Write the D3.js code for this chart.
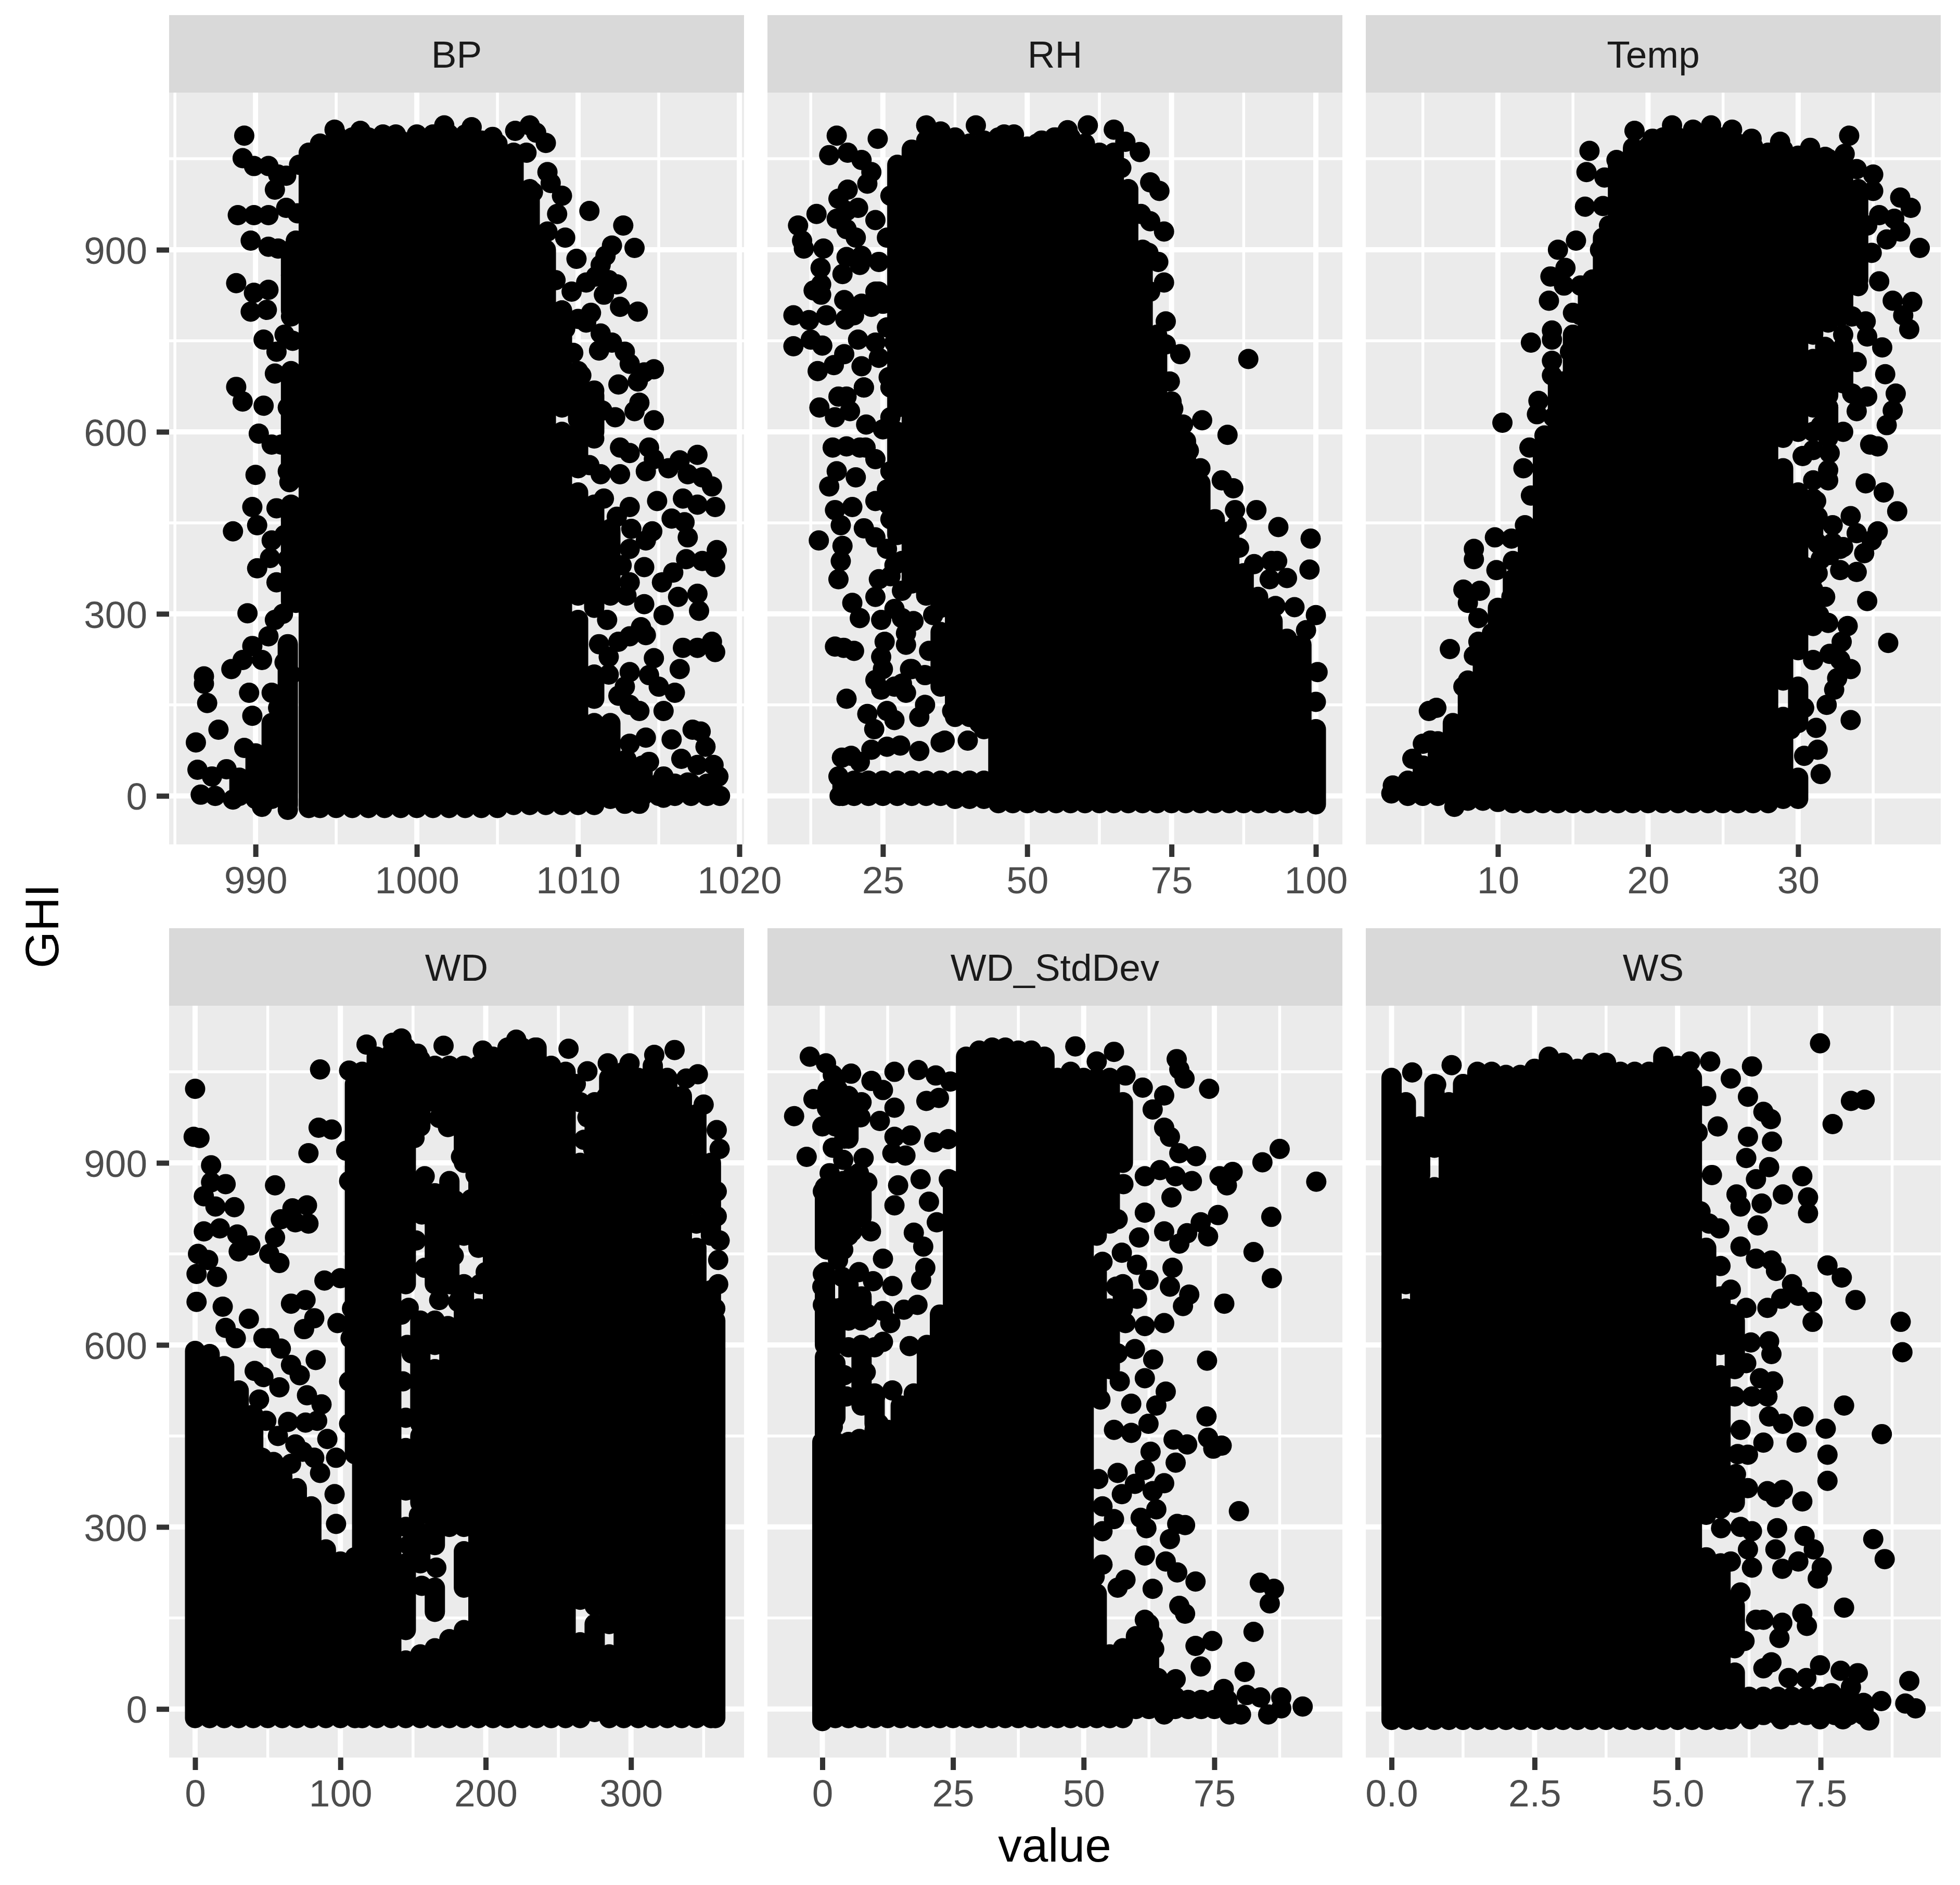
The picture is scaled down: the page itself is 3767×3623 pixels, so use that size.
<!DOCTYPE html>
<html>
<head>
<meta charset="utf-8">
<script src="https://cdn.jsdelivr.net/npm/d3@7"></script>
<style>
  html, body { margin: 0; padding: 0; background: #fff; }
  svg { display: block; }
  text { font-family: "Liberation Sans", Arial, sans-serif; }
</style>
</head>
<body>
<svg id="chart" width="3767" height="3623"></svg>
<script>
// facet names, tick labels
var facetNames = ['BP', 'RH', 'Temp', 'WD', 'WD_StdDev', 'WS'];
var yTicks = [0, 300, 600, 900];
var yMinor = [150, 450, 750, 1050];
var xTicks = [[990, 1000, 1010, 1020], [25, 50, 75, 100], [10, 20, 30], [0, 100, 200, 300], [0, 25, 50, 75], [0, 2.5, 5, 7.5]];
var xMinor = [[985, 995, 1005, 1015], [12.5, 37.5, 62.5, 87.5], [5, 15, 25, 35], [50, 150, 250, 350], [12.5, 37.5, 62.5, 87.5], [1.25, 3.75, 6.25, 8.75]];
var xDomains = [[984.64, 1020.29], [5, 104.6], [1.2, 39.5], [-17.9, 377.8], [-10.5, 99.5], [-0.45, 9.6]];
var yDomain = [-80, 1159];

// points that can be told apart: [value, GHI]
var bpPoints = [[989.3,1088],[989.2,1051],[989.9,1038],[990.8,1038],[991.4,1024],[991.9,1022],[991.2,999],[988.9,957],[989.9,957],[990.8,957],[991.9,969],[989.7,915],[990.8,905],[991.4,902],[992.5,915],[992.2,858],[988.8,845],[989.9,829],[990.8,834],[989.7,798],[990.7,801],[990.5,752],[991.3,732],[991.2,696],[992.2,698],[988.8,674],[989.2,650],[990.5,643],[990.2,597],[991,579],[991.6,579],[990,529],[992,535],[992.1,517],[989.8,476],[991.3,474],[990.1,446],[988.6,436],[991,421],[990.9,392],[990.1,375],[991.3,352],[992.5,318],[989.5,301],[990.8,263],[989.8,247],[989.2,224],[988.5,209],[990.4,224],[986.8,197],[986.8,185],[987,153],[987.7,109],[986.3,88],[989.6,170],[989.8,132],[991,170],[991.4,145],[989.3,79],[991.4,95],[986.4,43],[988.2,44],[987.3,32],[986.6,2],[987.5,0],[988.6,-6],[990.4,-18],[992,-23],[992.2,790],[991.8,760],[992,640],[992.2,600],[991.8,430],[992,390],
[994.9,1098],[996.5,1096],[997.9,1090],[998.7,1090],[1000,1090],[1001.7,1105],[1003.4,1102],[1004.7,1086],[1006.1,1096],[1007,1105],[1007.4,1093],[1008,1076],[1006.8,1060],[1008.1,1028],[1008.3,1010],[1007.2,995],[1009,989],[1008.7,959],[1010.7,964],[1012.8,940],[1013.5,903],[1012.1,907],[1011.7,890],[1011.4,875],[1012.4,843],[1011.9,850],[1009.9,885],[1009.2,920],[1008.1,930],[1007.8,890],[1008.1,850],[1009.6,831],[1010.5,846],[1011.1,856],[1011.6,826],[1010.8,796],[1012.6,806],[1013.7,798],[1010,786],[1009,800],[1007.5,795],[1010.5,780],[1011.4,762],[1011.3,734],[1012.1,747],[1012.9,732],[1013.2,712],[1014.7,703],[1014.1,698],[1012.5,678],[1013.7,683],[1013.8,648],[1013.5,634],[1014.7,619],[1010.2,693],[1011,668],[1011.5,635],[1012.3,624],[1011,589],[1009.9,579],[1012.6,574],[1014.4,574],[1013.2,565],[1014.7,555],[1010.7,545],[1011.4,530],[1012.6,530],[1014.2,535],
[1017.4,562],[1016.3,553],[1015.6,540],[1016.8,530],[1017.7,525],[1018.3,510],[1016.5,490],[1017.4,480],[1018.5,476],[1014.9,486],[1015.8,457],[1016.6,451],[1016.8,426],[1013.2,476],[1014.6,436],[1014.2,421],[1013.2,407],[1018.6,405],[1016.7,390],[1017.7,387],[1018.5,377],[1015.9,368],[1015.2,352],[1014.1,377],[1013.2,352],[1016.2,328],[1017.4,333],[1017.5,305],[1015.3,298],[1014.1,316],[1013,330],[1013.9,278],[1013.2,263],[1014.2,265],[1012.5,254],[1011.9,229],[1016.5,244],[1016.3,209],[1017.4,244],[1018.3,254],[1018.5,237],[1014.7,227],[1013.2,204],[1014.4,199],[1015,180],[1016,170],[1015.3,140],[1012.9,180],[1013.2,150],[1013.8,140],[1017.1,109],[1017.6,106],[1015.8,93],[1014.2,96],[1013.2,86],[1017.9,81],[1016.4,61],[1018.4,51],[1017.4,51],[1014.4,56],[1018.7,32],[1018.8,0],[1015.3,-3],[1013.8,-13],[1012.9,-13],[1011.7,32],[1012.6,32],[1013.5,42],[1015.3,32],[1016.8,22],
[992.7,1040],[992.6,960],[992.8,880],[992.5,820],[992.3,750],[992.6,660],[992.4,610],[992.7,560],[992.3,470],[992.5,420],[992.6,370],[992.8,330],[991.7,300],[991.2,290],[991.8,220],[992.2,200],[1009.2,770],[1008.6,850],[1007.7,920],[1009.7,730],[1010.3,640],[1011.6,490],[1012.4,460],[1013.3,440],[1012.7,380],[1011.8,290],[1011.3,250],[1011.9,200],[1012.5,165],[1012,90]];
var rhPoints = [[17,1088],[15.7,1056],[18.9,1060],[24.1,1083],[32.5,1105],[41.1,1105],[35,1095],[46,1090],[47.7,1090],[51.7,1075],[54.7,1085],[57,1097],[60.5,1105],[65,1098],[67,1078],[69.5,1061],[66.3,1035],[71.3,1011],[72.9,997],[69.7,959],[73.7,930],[71.3,947],[72.7,880],[71,895],[73.7,846],[71.3,831],[74,782],[74,744],[76.5,728],[88.3,720],[74.7,683],[75.3,638],[80.3,619],[84.7,595],[77,612],[78,569],[80,540],[83.7,520],[85.7,507],[86,471],[86.3,446],[89.7,471],[93.5,443],[99.1,424],[86.7,409],[89.3,382],[92.3,387],[93.3,387],[98.9,373],[95,359],[92,357],[93,313],[96.3,311],[100,298],[98.3,273],[100.3,204],[100,155],
[13.5,959],[10.3,940],[11,915],[11.3,902],[14.7,902],[14.2,870],[14.3,843],[13,833],[14.3,826],[9.5,792],[12.2,784],[15.2,792],[12.5,752],[9.5,741],[14.5,742],[13.7,700],[16.5,710],[18.3,728],[20.7,752],[23.7,747],[21.3,708],[18.9,999],[17.3,984],[17,951],[18.7,964],[18.7,934],[20.3,920],[18.7,888],[18,860],[21,875],[18.3,817],[21.3,811],[18.5,785],[20,792],[24.3,831],[14,640],[17.3,658],[18.7,658],[16.7,624],[19.3,634],[22.1,612],[21.7,673],[16.3,574],[18.7,576],[22,574],[17,535],[15.7,510],[16.7,471],[17.7,446],[20.3,525],[19.7,476],[21.7,441],[13.9,421],[18,412],[17.7,387],[17.3,357],[24.3,357],[19.7,318],[21,293],[23.7,328],[24.7,290],[16.7,246],[18.2,244],[20,239],[25.3,254],[24.7,229],[25,209],[23.7,191],[24.7,175],[18.7,160],[22.3,135],[23.5,110],[27,125],[25.7,140],[31.3,130],[29,268],[30,209],[28.3,293],[28.3,185],[27,180],[17.9,63],[19.5,66],[23,76],[25.7,81],[28,83],[31.3,74],[35,88],[21,56],[17.3,32],[17.5,0],[21,22],[28,590],[26,690],[26,480],[27,380],[28,440],
[21.3,1048],[23,1028],[22.3,1009],[26.3,989],[20.7,969],[23.7,949],[25.7,920],[21.3,890],[24.3,880],[23.7,831],[25,811],[23,806],[25.7,772],[27,747],[24.3,722],[26.3,673],[21.7,673],[26.3,624],[25,604],[27.7,584],[21,574],[23.7,555],[26.3,535],[25.7,505],[23.7,486],[26.3,456],[23.7,426],[25.7,407],[28.3,387],[26.3,362],[28.3,338],[31,367],[27,308],[30.3,288],[33.7,298],[29,249],[33,239],[29.7,209],[32.3,199],[29,170],[32.3,150],[37,140],[35.7,91],[39.7,91],[41.7,120]];
var tempPoints = [[16.1,1063],[15.9,1028],[15.8,971],[17,972],[14,900],[15.2,915],[13.5,856],[14.4,841],[13.4,816],[14.5,870],[15,796],[15.5,841],[13.6,767],[12.2,747],[13.6,752],[13.6,717],[13.6,693],[12.7,651],[12.6,629],[10.3,615],[13.1,594],[12.1,574],[11.7,540],[12.2,495],[11.8,446],[9.8,426],[10.9,424],[8.4,407],[8.4,390],[11,387],[9.9,372],[7.7,340],[8.8,338],[8,318],[8.7,293],[6.8,242],[8.7,254],[8.4,231],[8,190],[7.7,180],[5.4,140],[5.9,145],[5.5,91],[5,86],[4.3,61],[3,17],[2.9,4],[7.1,-18],
[19.1,1096],[20.3,1083],[21.6,1105],[23,1098],[24.2,1105],[25.6,1098],[26.9,1083],[28.8,1078],[30.8,1068],[31.8,1053],[33.4,1088],[33.1,1058],[33.9,1033],[35,1024],[35,997],[34.1,994],[36.8,986],[37.5,969],[35.4,957],[36.4,951],[34.6,940],[36.8,930],[35.9,917],[38.1,903],[34.9,895],[35.4,848],[36.3,816],[37.6,814],[37,792],[37.4,769],[34.5,782],[34.6,757],[35.6,739],[33.9,715],[35.8,695],[36.5,663],[36.3,635],[35.9,611],[34.6,658],[33.6,663],[33.9,634],[32.1,599],[34.8,579],[35.3,576],[32.1,565],[32,537],[34.5,515],[35.7,500],[36.6,469],[33.5,461],[31.2,486],[32.3,446],[33.9,433],[35.3,436],[34.9,421],[34.4,400],[33.9,369],[32.8,372],[32.3,417],[31.8,328],[34.6,321],[31.4,298],[33.3,280],[32.9,254],[36,252],[32.1,234],[31,224],[32.8,224],[33.5,209],[32.6,194],[32.4,175],[31.9,150],[33.5,125],[31.2,112],[31.3,76],[30.4,66],[31.5,36],[30.4,145],[29.5,110],[30,268],[33,700],[32,690],[31.5,610],[33,600],[31,570],[32,640],[33,760],[32,520],[31,520],[31.5,390],[31,360],[33,410],[32,285],
[15.5,792],[14.8,732],[14.3,683],[13.7,624],[13,535],[12.7,495],[12.5,426],[11.4,377],[10.9,328],[9.6,268],[9.4,229],[8.1,160],[7.3,110],[6.3,71],[17.4,940],[18.1,979],[17.1,1019],[17.9,1048],[16.8,900],[16.3,851],[30.9,328],[31.3,367],[32.1,397],[30.5,446],[31.3,416],[32.8,407],[30.5,377],[32.8,790],[31.8,740],[33.6,790],[34,840],[31,600],[31.3,460],[30.3,560]];
var wdPoints = [[0,1022],[-1,943],[3,941],[11,896],[11,868],[21,865],[6,845],[14,828],[27,827],[6,787],[17,792],[29,782],[30,754],[38,764],[2,750],[9,740],[1,717],[15,712],[1,671],[19,663],[21,628],[28,611],[37,643],[47,611],[51,611],[55,863],[55,777],[51,750],[58,735],[59,807],[67,825],[69,802],[77,830],[78,800],[78,916],[85,958],[94,955],[86,1054],[89,706],[100,710],[66,668],[76,674],[82,644],[75,626],[98,636],[59,594],[66,567],[72,550],[83,575],[41,557],[47,547],[58,530],[77,517],[87,502],[44,510],[49,475],[64,473],[76,472],[84,475],[57,450],[69,436],[91,445],[46,414],[54,407],[66,404],[74,424],[82,414],[97,414],[106,470],[86,389],[96,354],[97,305],[107,611],[111,574],[106,540],
[106,1052],[118,1095],[136,1098],[142,1105],[153,1080],[171,1093],[198,1085],[221,1103],[234,1090],[257,1088],[270,1051],[284,1064],[299,1064],[316,1078],[330,1086],[338,1039],[346,1046],[350,996],[359,954],[361,923],[359,853],[359,812],[361,772],[151,941],[158,878],[156,815],[146,850],[152,772],[158,727],[166,717],[168,674],[181,694],[181,671],[166,601],[174,631],[176,550],[181,525],[159,555],[147,661],[156,636],[149,586],[168,515],[159,409],[154,319],[159,273],[166,233],[156,203],[179,838],[168,787],[178,747],[168,974],[174,959],[184,974],[183,910],[163,1020],[176,1000],[145,1010],[106,870],[104,920],[107,710],[108,660],
[267.6,938],[274,923],[283,1009],[265,1000],[262,1030],[270,975],[258,1000],[190,840],[193,880],[200,720],[196,700],[360,700],[360,740],[358,660],[145,480],[143,540],[146,600],[142,650],[145,300],[147,270],[345,800]];
var sdPoints = [[-5.4,977],[0.7,1064],[5.5,1047],[-2.4,1075],[-3,910],[-1.7,1005],[2,1045],[9.4,1035],[13.8,1050],[18.3,1053],[21.7,1044],[24.5,1034],[7.5,1000],[11.6,1020],[13.8,991],[19.9,1002],[22.3,1007],[13.8,943],[16.9,945],[15.9,912],[13.4,916],[21.4,934],[24.1,939],[7.3,975],[11,969],[0.9,990],[2.7,960],[4.2,940],[7.9,908],[2,1000],[1,1020],[3,1020],[4,985],[5,1010],[0,960],[2,925],[4,905],
[18.8,873],[24.2,873],[14.5,863],[13.8,830],[20.4,836],[21.9,802],[17.5,785],[19.3,762],[11.6,742],[19.7,727],[18.9,707],[9.7,705],[13.4,697],[15.6,658],[18.2,666],[8.6,651],[11.6,656],[13,636],[0.9,614],[0.9,590],[7.1,596],[10,596],[16.7,598],[4.2,550],[8.3,555],[1.3,527],[4.6,515],[7.5,500],[10.1,515],[2.4,495],[13.4,525],[10.8,470],[7.1,445],[2,465],[0,435],[0.1,853],[0.9,823],[0.9,782],[0.9,757],[0.1,717],[0,696],[0.1,666],[3.8,712],[3.5,661],[5.7,878],[8.6,868],[7.1,838],[9.3,787],[2.7,838],[5.7,787],[4,757],[7,720],[8.6,645],[5,596],[11.6,605],[1.4,883],[7,883],[3,800],[3,740],[6,820],[4,870],
[55.8,1083],[48.4,1092],[52.5,1067],[58,1044],[61.3,1024],[67.8,1071],[68.3,1054],[69.3,1039],[74,1022],[65.4,1011],[63.2,988],[65.4,958],[66.5,943],[68.3,916],[71.5,911],[87.5,923],[84.2,901],[78.5,885],[76,878],[77.4,863],[94.5,869],[70.7,870],[67.6,878],[64.6,888],[61.7,878],[57.6,865],[66.8,843],[75.7,814],[85.9,811],[72.4,802],[69.8,784],[73.8,779],[68.3,767],[65.4,787],[60.6,777],[61.7,818],[56.5,807],[82.5,753],[67,727],[60.2,732],[57.3,752],[62.4,707],[66.5,696],[86,710],[56.2,696],[53.6,737],[70.2,683],[69,664],[76.9,668],[60.2,676],[65.4,636],[61.7,631],[58,636],[59.8,593],[63.3,576],[73.6,574],[56.5,586],[61.7,545],[56.9,540],[65.7,523],[59.1,503],[63.9,500],[73.5,482],[53.2,510],[62.4,470],[73.8,447],[76.4,434],[74.8,429],[67.2,444],[69.8,436],[59.1,455],[55.8,460],[62.8,424],[67.6,406],[56.5,389],[52.8,379],[61.7,394],[65.4,372],[59.8,371],[57.3,354],[63.2,359],[79.7,326],[60.9,315],[63.9,329],[53.6,334],[55.8,313],[53.6,293],[69.4,303],[67.9,305],[62,298],[66.5,280],[49.9,273],[61.7,253],[65.7,243],[53.6,238],[67.9,225],[52.1,218],[58,213],[56.5,200],[63.2,198],[71.4,210],[83.7,208],[86.4,198],[85.6,174],[68.3,170],[69.4,157],[82.5,127],[61.7,147],[63.2,122],[74.6,112],[71.4,104],[63.5,99],[72.4,70],[59.5,69],[80.8,61],[64.2,51],[67.6,49],[76.8,33],[81.2,23],[83.8,19],[87.8,19],[91.9,4],[87.8,1],[85.3,-9],[80.1,-9],[77.9,-9],[65.4,-9],[56.5,-9]];
var wsPoints = [[7.49,1097],[8.03,1002],[8.27,1004],[7.71,964],[7.18,878],[6.84,848],[7.28,843],[7.28,817],[7.62,731],[7.87,711],[8.11,674],[7,700],[7.35,671],[7.36,638],[8.9,638],[8.93,588],[7.91,500],[7.2,482],[8.57,453],[7.59,462],[7.62,419],[7.62,376],[7.18,342],[8.42,280],[8.62,247],[7.22,285],[7.38,263],[7.52,233],[7.45,215],[7.11,243],[6.83,231],[7.91,167],[7.18,157],[7.26,137],[6.83,142],[6.78,117],[6.5,147],[6.64,77],[6.94,51],[7.49,72],[7.25,51],[7.85,63],[8.15,59],[8.03,36],[9.05,46],[8.56,13],[8.98,9],[9.16,1],[8.35,-19],[7.89,-17],[7.49,-17],[6.81,-17],[6.27,-17],[5.93,-17],[7.69,26],[8.13,6],
[6.3,1059],[5.93,1039],[5.57,1067],[5.22,1067],[6.23,1009],[6.5,984],[6.63,972],[6.65,935],[6.23,943],[6.2,908],[6.6,893],[6.37,873],[6.47,833],[6.03,848],[6.1,828],[6.4,797],[5.73,792],[6.1,762],[6.64,739],[6.72,722],[6.37,742],[5.93,691],[6.2,661],[6.57,661],[6.81,676],[7.11,681],[5.93,651],[5.86,616],[6.28,604],[6.6,606],[6.64,585],[6.2,570],[6.67,540],[6.44,545],[6,515],[6.3,515],[6.57,515],[6.6,482],[6.84,470],[7.08,439],[6.5,439],[6.1,460],[5.62,434],[6.23,419],[6.02,387],[6.23,364],[6.57,359],[6.84,361],[6.71,349],[5.93,349],[5.76,298],[6.74,298],[6.3,293],[6.23,263],[6.71,263],[5.93,243],[6.3,233],[6.1,192],[5.93,172],[6.37,147],[5.9,117],[6.17,112],[5.57,112],[6.5,67],
[1.05,1061],[0.36,1049],[0.78,1029],[5.4,820],[5.6,880],[5.7,960],[5.5,1010],[5.35,950],[5.75,730],[5.55,800],[6.05,420],[6.1,300]];

// columns too dense to separate single points: [value, lowest GHI, highest GHI]
var bpBands = [[989,0,30],[990,-5,70],[991,-5,120],[992,-15,250],[992.2,320,480],[992.2,520,700],[992.2,800,900],[993.3,-20,1060],[994,-20,1075],[995,-20,1090],[996,-20,1085],[997,-20,1085],[998,-20,1085],[999,-20,1080],[1000,-20,1085],[1001,-20,1090],[1002,-20,1090],[1003,-20,1090],[1004,-20,1080],[1005,-20,1075],[1006,-15,1060],[1007,-15,1000],[1008,-15,900],[1009,-15,600],[1009,640,720],[1009,740,800],[1010,-15,290],[1010,330,500],[1010,540,600],[1010,620,700],[1011,-15,120],[1011,160,200],[1011,310,480],[1011,600,660],[1012,-5,120],[1012,330,440],[1013,0,60],[1014,0,50],[1015,0,20],[1016,0,20],[1017,0,20],[1018,0,20]];
var rhBands = [[18,0,20],[20,0,25],[22.5,0,25],[25,0,25],[27.5,0,25],[27.5,430,600],[27.5,640,1040],[30,0,25],[30,350,1065],[32.5,0,25],[32.5,330,1080],[35,0,25],[35,180,270],[35,310,1085],[37.5,-5,25],[37.5,130,1085],[40,-5,25],[40,130,1075],[42.5,-5,25],[42.5,110,1080],[45,-12,1085],[47.5,-12,1085],[50,-12,1070],[52.5,-12,1080],[55,-12,1085],[57.5,-12,1085],[60,-12,1075],[62.5,-12,1060],[65,-12,1060],[67.5,-12,1000],[70,-12,900],[72.5,-12,760],[75,-12,650],[77.5,-12,585],[80,-12,515],[82.5,-12,456],[85,-12,436],[87.5,-12,367],[90,-12,328],[92.5,-12,288],[95,-12,259],[97.5,-12,249],[100,-14,110]];
var tempBands = [[4,0,25],[5,0,50],[6,0,90],[7,0,120],[8,-8,180],[9,-8,250],[10,-10,310],[11,-12,357],[12,-12,440],[13,-12,565],[14,-12,680],[15,-12,760],[16,-12,840],[17,-12,920],[18,-12,1040],[19,-12,1068],[20,-12,1070],[21,-12,1085],[22,-12,1085],[23,-12,1085],[24,-12,1090],[25,-12,1085],[26,-12,1075],[27,-12,1070],[28,-12,1060],[29,-5,130],[29,190,540],[29,590,1065],[30,-5,30],[30,120,180],[30,240,500],[30,600,1055],[31,280,340],[31,430,490],[31,640,720],[31,760,1055],[32,590,640],[32,660,720],[32,780,1050],[33,680,740],[33,800,1040],[34,850,1000]];
var wdBands = [[0,-15,590],[10,-15,585],[20,-15,565],[30,-15,525],[40,-15,485],[50,-15,404],[60,-15,384],[70,-15,364],[80,-15,334],[90,-15,263],[100,-15,243],[110,-15,250],[110,420,1030],[115,-15,1050],[125,-15,1075],[135,-15,1080],[145,-15,80],[145,130,240],[145,360,430],[145,700,1090],[155,-15,90],[155,240,290],[155,340,450],[155,470,640],[155,820,860],[155,960,1070],[165,-15,100],[165,160,200],[165,270,330],[165,340,560],[165,600,640],[165,700,800],[165,800,850],[165,1000,1060],[175,-15,115],[175,300,400],[175,420,540],[175,560,620],[175,700,820],[175,830,870],[175,960,1060],[185,-15,130],[185,200,260],[185,300,620],[185,640,700],[185,780,830],[185,900,1060],[195,-15,660],[195,760,1060],[205,-15,1075],[215,-15,1090],[225,-15,1090],[235,-15,1090],[245,-15,1060],[255,-15,1050],[265,-15,110],[265,180,900],[275,-5,140],[275,170,1000],[285,-15,90],[285,140,1040],[295,-15,1050],[305,-15,1040],[315,-15,1060],[325,-15,1040],[335,-15,1010],[345,-15,760],[345,830,980],[355,-15,690],[355,780,900],[358,-15,640]];
var sdBands = [[0,-20,440],[0.5,450,580],[0.5,600,720],[0.5,760,860],[2.5,-15,270],[2.5,290,440],[2.5,480,570],[2.5,600,660],[2.5,760,860],[2.5,960,1040],[5,-15,250],[5,280,440],[5,640,700],[5,780,860],[5,940,1010],[7.5,-15,440],[7.5,520,600],[7.5,640,680],[7.5,810,870],[10,-15,460],[10,470,520],[12.5,-15,460],[15,-15,500],[17.5,-15,520],[20,-15,600],[22.5,-15,650],[25,-15,870],[27.5,-15,1075],[30,-15,1085],[32.5,-15,1090],[35,-15,1090],[37.5,-15,1085],[40,-15,1085],[42.5,-15,1075],[45,-15,1040],[47.5,-15,1050],[50,-15,720],[50,740,1040],[52.5,-15,190],[52.5,520,720],[52.5,780,1040],[55,-15,90],[55,560,660],[55,800,1040],[57.5,-15,100],[57.5,660,700],[57.5,900,1000],[60,0,120],[62.5,0,140],[65,0,40],[67.5,0,20],[70,0,15],[72.5,0,15],[75,0,15],[77.5,0,15]];
var wsBands = [[0,-18,1040],[0.25,-18,660],[0.25,700,890],[0.25,900,1000],[0.5,-18,730],[0.5,760,860],[0.5,880,960],[0.75,-18,860],[0.75,925,1030],[1,-18,1000],[1.25,-18,1030],[1.5,-18,1050],[1.75,-18,1050],[2,-18,1045],[2.25,-18,1045],[2.5,-18,1055],[2.75,-18,1075],[3,-18,1065],[3.25,-18,1055],[3.5,-18,1065],[3.75,-18,1065],[4,-18,1050],[4.25,-18,1050],[4.5,-18,1050],[4.75,-18,1075],[5,-18,1060],[5.25,-18,1040],[5.5,-18,250],[5.5,320,760],[5.75,-18,150],[5.75,170,240],[5.75,330,550],[5.75,600,680],[6,-10,60],[6,100,170],[6,340,380],[6,560,640],[6.25,-10,20],[6.5,-10,20],[6.75,-10,20],[7,-10,20],[7.25,-10,20],[7.5,-10,20],[7.75,-10,20],[8,-10,20],[8.25,-10,10]];

var allPoints = [bpPoints, rhPoints, tempPoints, wdPoints, sdPoints, wsPoints];
var allBands = [bpBands, rhBands, tempBands, wdBands, sdBands, wsBands];

var panelW = 1105, panelH = 1445, stripH = 149;
var colX = [325, 1475, 2625], rowY = [178, 1933];
var dotR = 19.5;

var svg = d3.select('#chart');

facetNames.forEach(function(name, i) {
  var col = i % 3, row = Math.floor(i / 3);
  var g = svg.append('g').attr('transform', 'translate(' + [colX[col], rowY[row]] + ')');

  var x = d3.scaleLinear().domain(xDomains[i]).range([0, panelW]);
  var y = d3.scaleLinear().domain(yDomain).range([panelH, 0]);

  g.append('rect').attr('width', panelW).attr('height', panelH).style('fill', '#EBEBEB');

  // strip
  g.append('rect').attr('y', -stripH).attr('width', panelW).attr('height', stripH).style('fill', '#D9D9D9');
  g.append('text').attr('x', panelW / 2).attr('y', -stripH / 2).attr('dy', '0.36em')
    .attr('text-anchor', 'middle').style('font-size', '73px').style('fill', '#1A1A1A').text(name);

  // grid
  g.selectAll('.minorx').data(xMinor[i]).enter().append('line')
    .attr('x1', x).attr('x2', x).attr('y1', 0).attr('y2', panelH)
    .style('stroke', '#fff').style('stroke-width', 5.5);
  g.selectAll('.minory').data(yMinor).enter().append('line')
    .attr('y1', y).attr('y2', y).attr('x1', 0).attr('x2', panelW)
    .style('stroke', '#fff').style('stroke-width', 5.5);
  g.selectAll('.majorx').data(xTicks[i]).enter().append('line')
    .attr('x1', x).attr('x2', x).attr('y1', 0).attr('y2', panelH)
    .style('stroke', '#fff').style('stroke-width', 10);
  g.selectAll('.majory').data(yTicks).enter().append('line')
    .attr('y1', y).attr('y2', y).attr('x1', 0).attr('x2', panelW)
    .style('stroke', '#fff').style('stroke-width', 10);

  // overplotted mass
  g.selectAll('.band').data(allBands[i]).enter().append('line')
    .attr('x1', function(d) { return x(d[0]); })
    .attr('x2', function(d) { return x(d[0]); })
    .attr('y1', function(d) { return y(d[1]); })
    .attr('y2', function(d) { return y(d[2]); })
    .style('stroke', '#000').style('stroke-width', dotR * 2).style('stroke-linecap', 'round');

  g.selectAll('.pt').data(allPoints[i]).enter().append('circle')
    .attr('cx', function(d) { return x(d[0]); })
    .attr('cy', function(d) { return y(d[1]); })
    .attr('r', dotR).style('fill', '#000');

  // axes
  var xAxis = g.append('g').attr('transform', 'translate(0,' + panelH + ')')
    .call(d3.axisBottom(x).tickValues(xTicks[i]).tickFormat(function(d) { return i == 5 ? d3.format('.1f')(d) : d; }).tickSize(24).tickPadding(18));
  styleAxis(xAxis);
  if (col == 0) {
    var yAxis = g.append('g').call(d3.axisLeft(y).tickValues(yTicks).tickSize(24).tickPadding(18));
    styleAxis(yAxis);
    yAxis.selectAll('text').attr('dy', '0.36em');
  }
});

function styleAxis(a) {
  a.select('.domain').remove();
  a.selectAll('.tick line').style('stroke', '#333333').style('stroke-width', 10);
  a.selectAll('.tick text').style('font-size', '73px').style('fill', '#4D4D4D')
    .style('font-family', '"Liberation Sans", Arial, sans-serif');
}

svg.append('text').attr('x', 2027).attr('y', 3578).attr('text-anchor', 'middle')
  .style('font-size', '91px').style('fill', '#000').text('value');
svg.append('text').attr('transform', 'translate(112,1780) rotate(-90)').attr('text-anchor', 'middle')
  .style('font-size', '91px').style('fill', '#000').text('GHI');
</script>
</body>
</html>
